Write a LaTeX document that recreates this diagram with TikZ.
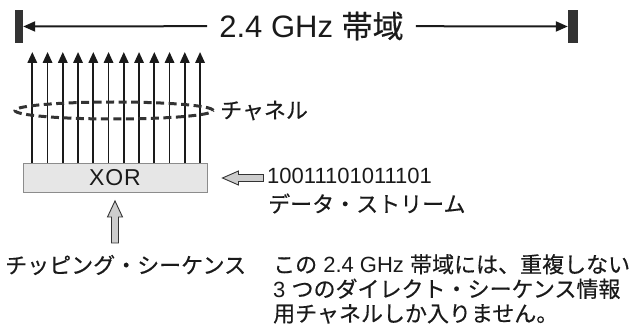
\documentclass[tikz,border=0pt]{standalone}
\usepackage{fontspec}
\setmainfont{Liberation Sans}
\newfontfamily\jp[FakeBold=0.4]{Noto Sans CJK JP}
\newfontfamily\geo[LetterSpace=4]{Liberation Sans}
\usetikzlibrary{arrows.meta}

\definecolor{ink}{HTML}{1A1A1A}
\definecolor{barcol}{HTML}{333333}
\definecolor{boxfill}{HTML}{E6E6E6}
\definecolor{boxline}{HTML}{8C8C8C}
\definecolor{hollowfill}{HTML}{CDCDCD}

\tikzset{
  txt/.style={inner sep=0pt, anchor=west, text=ink, font=\fontsize{22}{24.5}\selectfont},
  bandbar/.style={fill=barcol, inner sep=0pt, minimum height=33pt},
  span/.style={draw=ink, line width=2pt, -{Triangle[length=12pt,width=10pt]}},
  chip/.style={draw=ink, line width=1.8pt, -{Triangle[length=11pt,width=9.5pt]}},
  hollow/.style={draw=barcol, fill=hollowfill, line width=0.9pt, line join=miter},
  chan/.style={draw=barcol, line width=3pt, dash pattern=on 8pt off 4.5pt}
}

\begin{document}
\begin{tikzpicture}[x=1pt, y=-1pt]
  \useasboundingbox (0,0) rectangle (637,326);

  % band width
  \node[inner xsep=12pt, inner ysep=0pt, text=ink, font=\fontsize{31}{31}\selectfont] (band) at (311.5,26) {2.4 GHz {\jp 帯域}};
  \node[bandbar, minimum width=8pt] (lbar) at (19,26.5) {};
  \node[bandbar, minimum width=10pt] (rbar) at (573,26.5) {};
  \draw[span] (band) -- (lbar);
  \draw[span] (band) -- (rbar);

  % XOR box
  \node[draw=boxline, fill=boxfill, line width=0.9pt, minimum width=184pt, minimum height=29pt, inner sep=0pt,
        text=ink, font=\geo\fontsize{23}{23}\selectfont] (xor) at (115,178) {XOR};

  % chips
  \foreach \i in {0,...,11} {
    \coordinate (top\i) at ({32.3+15.25*\i},52);
    \draw[chip] (xor.north -| top\i) -- (top\i);
  }
  \draw[chan] (114,110.5) ellipse [x radius=99pt, y radius=8.5pt];
  \node[txt] (chanlbl) at (220,110.5) {\jp チャネル};

  % data stream
  \node[txt] (bits) at (267,175.5) {10011101011101};
  \node[txt] (datalbl) at (268,203.5) {\jp データ・ストリーム};
  \draw[hollow] (xor.east) ++(15,0) -- ++(16,-7) -- ++(0,3.5) -- ++(25,0) -- ++(0,7) -- ++(-25,0) -- ++(0,3.5) -- cycle;

  % chipping sequence
  \node[txt] (chiplbl) at (5,265) {\jp チッピング・シーケンス};
  \draw[hollow] (xor.south) ++(0,8) -- ++(7.5,16) -- ++(-4,0) -- ++(0,26) -- ++(-7,0) -- ++(0,-26) -- ++(-4,0) -- cycle;

  % note
  \node[txt, align=left, anchor=north west] (note) at (273,254) {{\jp この} 2.4 GHz {\jp 帯域には、重複しない}\\3 {\jp つのダイレクト・シーケンス情報}\\{\jp 用チャネルしか入りません。}};
\end{tikzpicture}
\end{document}
